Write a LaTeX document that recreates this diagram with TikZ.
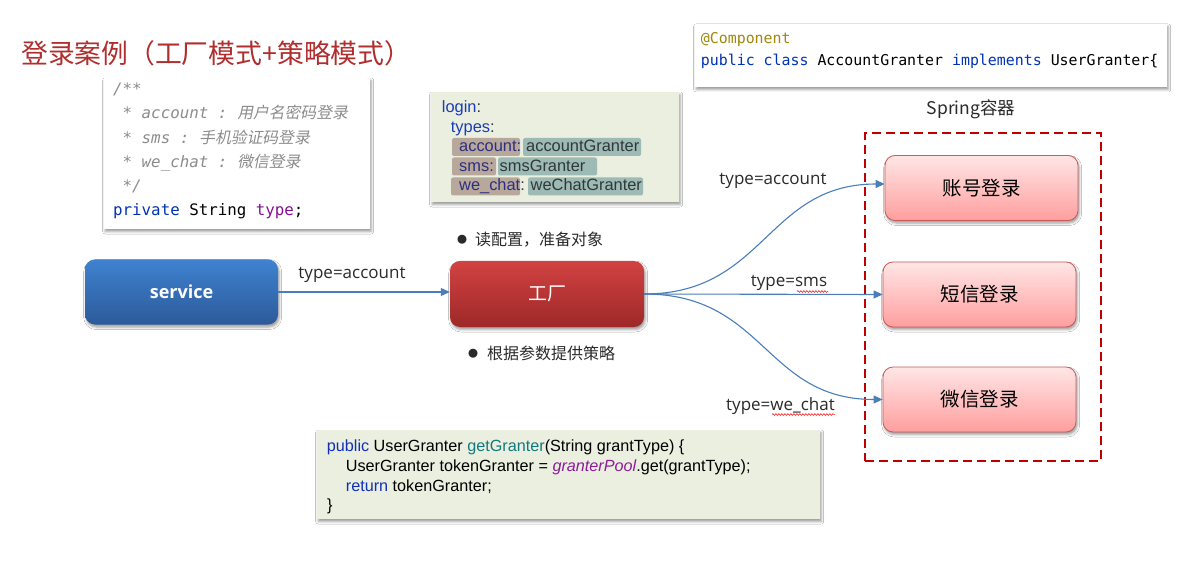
\documentclass[tikz,border=0pt]{standalone}
\usepackage{fontspec}
\setmainfont{Liberation Sans}
\newfontfamily\cjk{Noto Sans CJK SC}
\newfontfamily\mono{DejaVu Sans Mono}
\newfontfamily\lat{Open Sans}
\usetikzlibrary{arrows.meta,shadows.blur,decorations.pathmorphing}
\newcommand\fs[1]{\fontsize{#1}{#1}\selectfont}
\definecolor{titlered}{HTML}{B02E2E}
\definecolor{cmt}{HTML}{8C8C8C}
\definecolor{kwblue}{HTML}{0033B3}
\definecolor{purp}{HTML}{871094}
\definecolor{annot}{HTML}{9E880D}
\definecolor{codebg}{HTML}{EBEFE0}
\definecolor{ykey}{HTML}{1A3DB8}
\definecolor{ynavy}{HTML}{2B2F7F}
\definecolor{ytxt}{HTML}{2F3838}
\definecolor{hlbrown}{HTML}{B8A89C}
\definecolor{hlteal}{HTML}{9DBAB5}
\definecolor{kw2}{HTML}{1030B8}
\definecolor{teal2}{HTML}{127A7E}
\definecolor{purp2}{HTML}{8E1C9B}
\definecolor{arrowblue}{HTML}{4A7EBB}
\definecolor{srvtop}{HTML}{3F82D0}
\definecolor{srvbot}{HTML}{2C5A9A}
\definecolor{factop}{HTML}{D24242}
\definecolor{facbot}{HTML}{9E2828}
\definecolor{pinktop}{HTML}{FFE6E6}
\definecolor{pinkbot}{HTML}{FF9E9E}
\definecolor{pinkborder}{HTML}{C85A5A}
\definecolor{dashred}{HTML}{C00000}
\definecolor{lbl}{HTML}{2A2A2A}
\begin{document}
\begin{tikzpicture}[x=1pt,y=-1pt,
  shad/.style={blur shadow={shadow xshift=1.2pt,shadow yshift=-2.5pt,shadow blur radius=2.5pt,shadow opacity=40}},
  codebox/.style={fill=codebg,draw=none,inner sep=0,shad},
  whitebox/.style={fill=white,draw=none,inner sep=0,shad},
  txt/.style={inner sep=0,anchor=base west},
  cmtline/.style={txt,font=\mono\fs{15.8}\itshape,text=cmt},
  cmtcjk/.style={inner sep=0,anchor=base west,font=\cjk\fs{15.8},text=cmt,transform shape,xslant=0.2},
  flow/.style={draw=arrowblue,line width=1.1pt,-{Triangle[length=9pt,width=8pt]}},
  pinkbox/.style={rounded corners=10pt,draw=pinkborder,line width=0.8pt,top color=pinktop,bottom color=pinkbot,
    minimum width=193pt,minimum height=65pt,inner sep=0,shad,font=\cjk\fs{19.5}},
  srvbox/.style={rounded corners=10pt,draw=none,top color=srvtop,bottom color=srvbot,
    minimum width=193pt,minimum height=65pt,inner sep=0,shad,text=white,font=\lat\bfseries\fs{18}},
  facbox/.style={rounded corners=10pt,draw=none,top color=factop,bottom color=facbot,
    minimum width=194pt,minimum height=66pt,inner sep=0,shad,text=white,font=\cjk\fs{19}},
  dashbox/.style={draw=dashred,line width=2.6pt,dash pattern=on 9pt off 5pt,inner sep=0},
  lab/.style={inner sep=0,text=lbl,font=\lat\fs{17}},
  bul/.style={inner sep=0,anchor=west,text=lbl,font=\cjk\fs{16}},
  squig/.style={draw=red,line width=0.5pt,decorate,decoration={snake,segment length=3pt,amplitude=0.9pt}}
]
\fill[white] (0,0) rectangle (1184,564);
\useasboundingbox (0,0) rectangle (1184,564);

% title
\node[inner sep=0,anchor=west,text=titlered,font=\cjk\fs{26.8}] (title) at (21,53) {登录案例（工厂模式+策略模式）};

% code box 1
\node[whitebox,minimum width=266pt,minimum height=151pt] (code1) at (237,153.5) {};
\node[cmtline] (c1) at (113,95) {/**};
\node[cmtline] (c2) at (113,119) {\ * account :\ \mbox{}};
\node[cmtcjk] (c2z) at (c2.base east) {用户名密码登录};
\node[cmtline] (c3) at (113,143.5) {\ * sms :\ \mbox{}};
\node[cmtcjk] (c3z) at (c3.base east) {手机验证码登录};
\node[cmtline] (c4) at (113,168) {\ * we\_chat :\ \mbox{}};
\node[cmtcjk] (c4z) at (c4.base east) {微信登录};
\node[cmtline] (c5) at (113,192) {\ */};
\node[txt,font=\mono\fs{15.8},text=black] (c6) at (113,216) {{\color{kwblue}private} String {\color{purp}type};};

% yaml box
\node[codebox,minimum width=248pt,minimum height=110pt] (yaml) at (555,147) {};
\fill[hlbrown,rounded corners=2pt] (452,138) rectangle (520,156);
\fill[hlteal,rounded corners=2pt] (523,138) rectangle (641,156);
\fill[hlbrown,rounded corners=2pt] (452,157.5) rectangle (496,175.5);
\fill[hlteal,rounded corners=2pt] (498,157.5) rectangle (597,175.5);
\fill[hlbrown,rounded corners=2pt] (451,177.5) rectangle (520,195.5);
\fill[hlteal,rounded corners=2pt] (528,177.5) rectangle (643,195.5);
\node[txt,font=\fs{16.4}] (y1) at (441.7,113) {\color{ykey}login\color{ytxt}:};
\node[txt,font=\fs{16.4}] (y2) at (450.7,132.5) {\color{ykey}types\color{ytxt}:};
\node[txt,font=\fs{16.4},text=ynavy] (y3a) at (459,152) {account:};
\node[txt,font=\fs{16.4},text=ytxt] (y3b) at (526,152) {accountGranter};
\node[txt,font=\fs{16.4},text=ynavy] (y4a) at (459,171.5) {sms:};
\node[txt,font=\fs{16.4},text=ytxt] (y4b) at (499.5,171.5) {smsGranter};
\node[txt,font=\fs{16.4},text=ynavy] (y5a) at (459,191) {we\_chat{\color{ytxt}:}};
\node[txt,font=\fs{16.4},text=ytxt] (y5b) at (530.5,191) {weChatGranter};

% top-right code box
\node[whitebox,minimum width=472pt,minimum height=63pt] (code2) at (931,55.5) {};
\node[txt,font=\mono\fs{14.9},text=annot] (t1) at (700.7,44) {@Component};
\node[txt,font=\mono\fs{14.9},text=black] (t2) at (700.7,66) {{\color{kwblue}public class} AccountGranter {\color{kwblue}implements} UserGranter\{};

% spring container
\node[inner sep=0,text=lbl,font=\cjk\fs{17.5}] (springlbl) at (971,109) {Spring容器};
\node[dashbox,minimum width=236pt,minimum height=328pt] (spring) at (983,297) {};

% main nodes
\node[srvbox] (srv) at (181.5,292) {service};
\node[facbox] (fac) at (547,294) {工厂};
\node[pinkbox] (acc) at (981.5,188) {账号登录};
\node[pinkbox] (sms) at (979.5,294.5) {短信登录};
\node[pinkbox] (wc) at (979.5,399.5) {微信登录};

% bullets
\node[bul] (b1) at (457,240) {\raisebox{2pt}{\fs{10}●}\hspace{8pt}读配置，准备对象};
\node[bul] (b2) at (468,353) {\raisebox{2pt}{\fs{10}●}\hspace{9pt}根据参数提供策略};

% connectors
\draw[flow] (srv.east) -- (srv.east -| fac.west);
\node[lab] (lsa) at (352,275) {type=account};
\draw[flow] (fac.east) .. controls +(121,0) and +(-118,0) .. ([yshift=4pt]acc.west);
\draw[flow] (fac.east) -- (sms.west);
\draw[flow] (fac.east) .. controls +(121,0) and +(-118,0) .. (wc.west);
\node[lab] (l1) at (773,181) {type=account};
\node[lab] (l2) at (789,283) {type=sms};
\node[lab] (l3) at (780.5,406) {type=we\_chat};
\coordinate (sq1a) at (797,291.5);
\coordinate (sq1b) at (828,291.5);
\coordinate (sq2a) at (772,414.5);
\coordinate (sq2b) at (835,414.5);
\draw[squig] (sq1a) -- (sq1b);
\draw[squig] (sq2a) -- (sq2b);

% bottom code box
\node[codebox,minimum width=503pt,minimum height=89pt] (code3) at (568.5,474.5) {};
\node[txt,font=\fs{16.2},text=black] (g1) at (326.7,451.7) {{\color{kw2}public} UserGranter {\color{teal2}getGranter}(String grantType) \{};
\node[txt,font=\fs{16.2},text=black] (g2) at (345.7,471.7) {UserGranter tokenGranter = {\color{purp2}\itshape granterPool}.get(grantType);};
\node[txt,font=\fs{16.2},text=black] (g3) at (345.7,491.2) {{\color{kw2}return} tokenGranter;};
\node[txt,font=\fs{16.2},text=black] (g4) at (327,510.5) {\}};
\end{tikzpicture}
\end{document}
